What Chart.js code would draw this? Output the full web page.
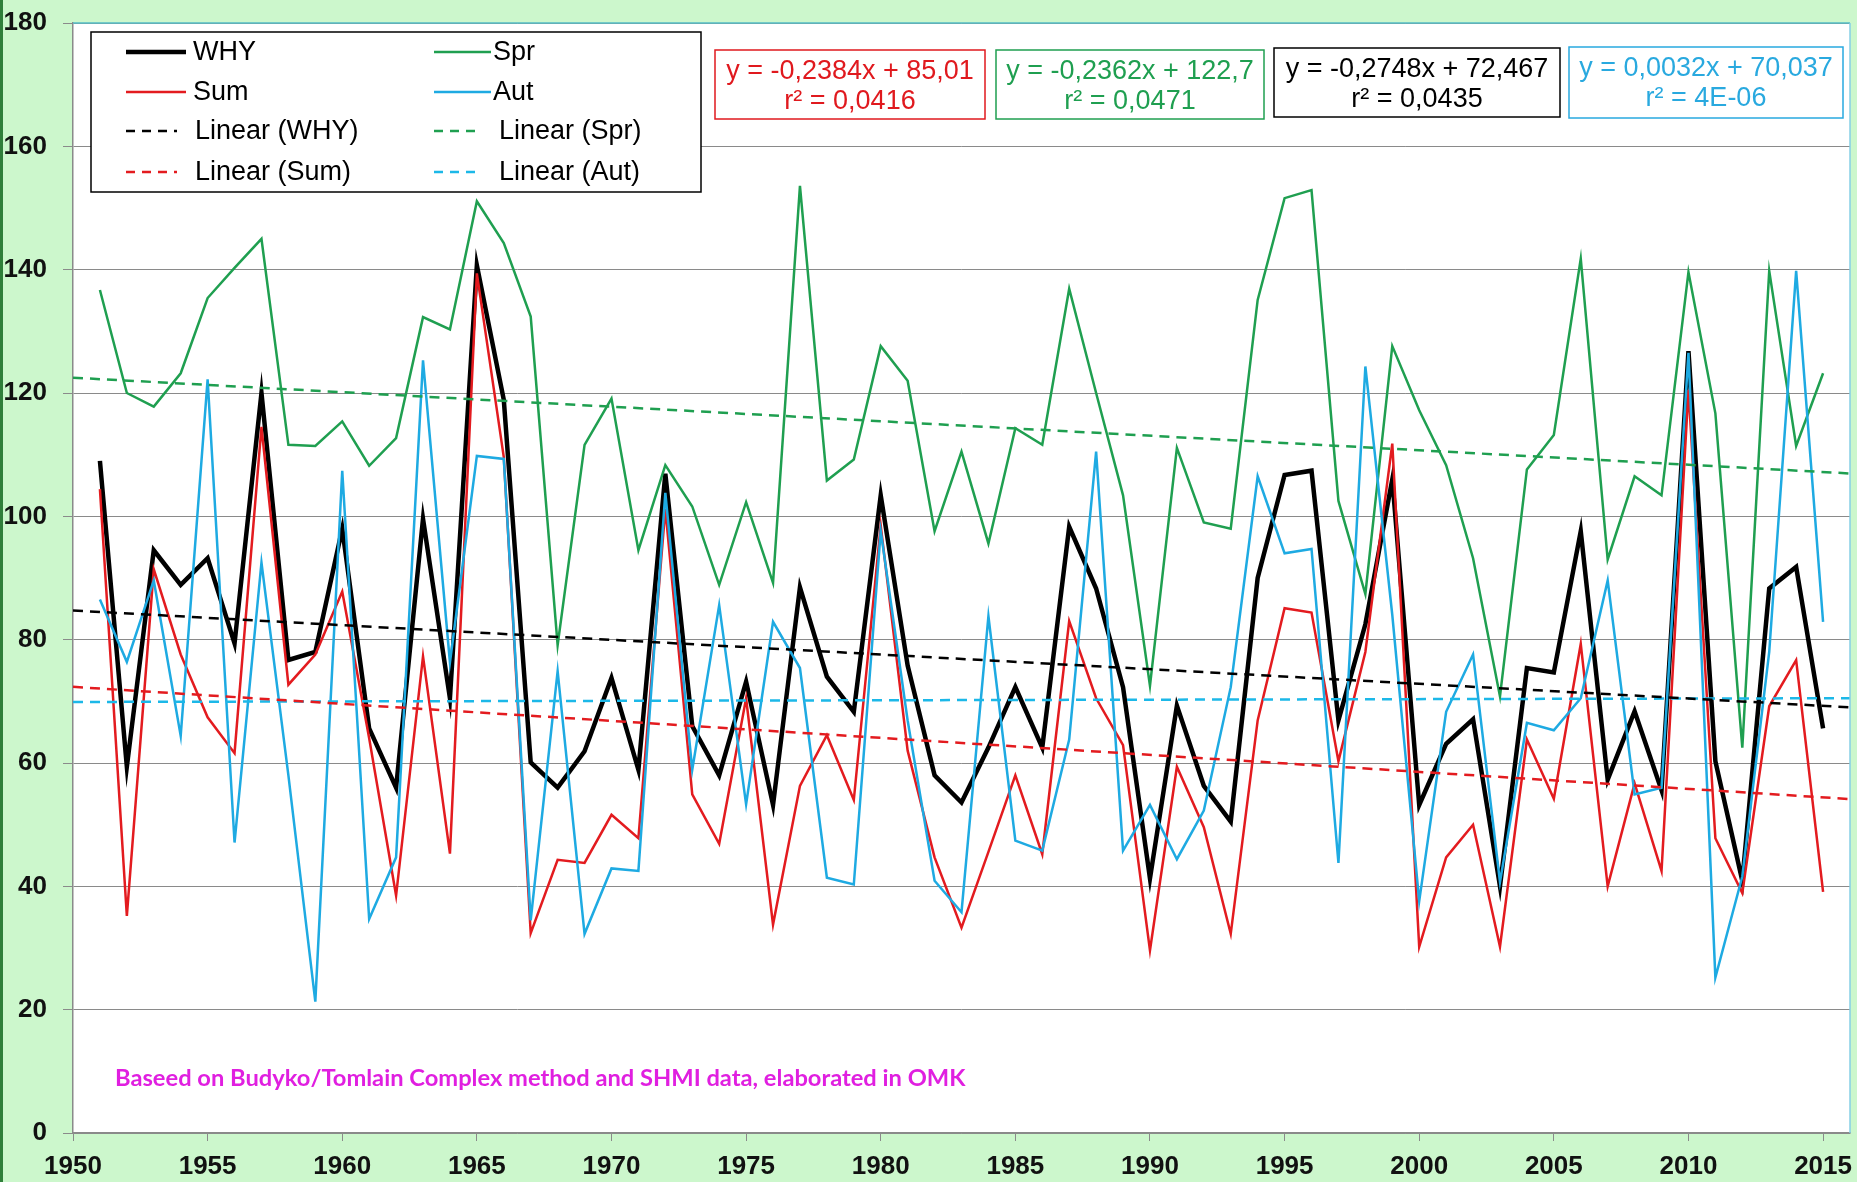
<!DOCTYPE html>
<html>
<head>
<meta charset="utf-8">
<script src="https://cdn.jsdelivr.net/npm/chart.js@4.4.1/dist/chart.umd.min.js"></script>
<style>
    html, body { margin: 0; padding: 0; background: #ccf7cc; }
    #wrap { width: 1857px; height: 1182px; position: relative; }
</style>
</head>
<body>
<div id="wrap"><canvas id="chart" width="1857" height="1182"></canvas></div>
<script>

let years = [];
for (let y = 1951; y <= 2015; y++) years.push(y);

let xTicks = [1950, 1955, 1960, 1965, 1970, 1975, 1980, 1985, 1990, 1995, 2000, 2005, 2010, 2015];
let yTicks = [0, 20, 40, 60, 80, 100, 120, 140, 160, 180];

let why = [109, 59.4, 94.5, 88.9, 93.2, 79.4, 120, 76.7, 78, 98,
    65.6, 56, 99.6, 70.5, 140.7, 118.9, 60.1, 56, 61.9, 73.8,
    58.9, 106.9, 66, 58, 73.2, 53.2, 88.5, 74, 68.3, 103.4,
    75.8, 58, 53.6, 62.5, 72.3, 62.5, 98.3, 88.3, 72.3, 41.3,
    69.3, 56.3, 50.5, 90, 106.7, 107.4, 66.9, 82.5, 106, 53.2,
    63.1, 67.1, 40, 75.4, 74.7, 97.6, 57.3, 68.4, 55.6, 126.8,
    60.3, 40.9, 88.3, 91.8, 65.6];

let sum = [104.4, 35.2, 91.4, 77.6, 67.4, 61.6, 114.5, 72.7, 77.6, 87.8,
    64, 38.5, 77.3, 45.3, 139.4, 109.6, 32.4, 44.3, 43.8, 51.6,
    47.8, 101.2, 54.9, 46.9, 70.5, 33.8, 56.3, 64.5, 54, 98.5,
    62, 44.7, 33.3, 45.6, 58, 45.2, 83, 70.5, 62.9, 29.6,
    59.4, 49.6, 32.3, 66.9, 85.1, 84.4, 60.3, 78, 111.8, 30.2,
    44.7, 50, 30.2, 63.8, 54.2, 79.3, 40, 56.7, 42.5, 120.5,
    47.8, 38.9, 69.2, 76.7, 39.1];

let spr = [136.7, 120, 117.8, 123.2, 135.4, 140.3, 145, 111.6, 111.4, 115.4,
    108.2, 112.7, 132.3, 130.3, 151.1, 144.3, 132.4, 79.1, 111.6, 119.1,
    94.5, 108.3, 101.6, 88.9, 102.3, 89.2, 153.6, 105.8, 109.2, 127.6,
    122, 97.6, 110.5, 95.6, 114.3, 111.6, 136.9, 120, 103.4, 72.5,
    111.1, 99, 98, 135.1, 151.6, 152.9, 102.5, 87.4, 127.6, 117.2,
    108.3, 93.2, 70.8, 107.6, 113.2, 141.8, 93, 106.5, 103.4, 139.6,
    116.7, 62.5, 139.8, 111.4, 123.2];

let aut = [86.5, 76.4, 89.6, 64.4, 122.2, 47.1, 92.5, 58, 21.3, 107.4,
    34.7, 44.7, 125.3, 76.3, 109.8, 109.3, 34.5, 74.9, 32.3, 42.9,
    42.5, 103.8, 58.9, 85.6, 53.3, 82.9, 75.4, 41.4, 40.3, 97.6,
    66.9, 40.9, 35.8, 83.8, 47.4, 45.8, 63.8, 110.5, 45.8, 53.2,
    44.4, 52.3, 72.3, 106.5, 94, 94.7, 43.8, 124.3, 84, 37.6,
    68.3, 77.6, 40.7, 66.5, 65.3, 70.5, 89.6, 54.9, 56, 126.5,
    25.2, 41.6, 78, 139.8, 82.9];

let equations = [
    ['y = -0,2384x + 85,01', 'r² = 0,0416'],
    ['y = -0,2362x + 122,7', 'r² = 0,0471'],
    ['y = -0,2748x + 72,467', 'r² = 0,0435'],
    ['y = 0,0032x + 70,037', 'r² = 4E-06']
];

let note = 'Baseed on Budyko/Tomlain Complex method and SHMI data, elaborated in OMK';

let colors = {
    why: '#000000',
    sum: '#e31b1f',
    spr: '#1f9f50',
    aut: '#1eaae2',
    autTrend: '#1cb8e8'
};

let toPoints = (values) => values.map((v, i) => ({ x: years[i], y: v }));

// least squares trend, drawn from 1950 to 2016 like the excel forecast
let trend = (values) => {
    let n = values.length;
    let mx = years.reduce((a, b) => a + b, 0) / n;
    let my = values.reduce((a, b) => a + b, 0) / n;
    let sxy = 0, sxx = 0;
    values.forEach((v, i) => {
        sxy += (years[i] - mx) * (v - my);
        sxx += (years[i] - mx) * (years[i] - mx);
    });
    let slope = sxy / sxx;
    let icpt = my - slope * mx;
    return [1950, 2016].map(x => ({ x: x, y: slope * x + icpt }));
};

let tickFont = { family: "'Liberation Sans', Arial, sans-serif", weight: 'bold', size: 26 };
let textFont = "27px 'Liberation Sans', Arial, sans-serif";

let dashedSet = (label, values, color, order) => ({
    label: label,
    data: trend(values),
    borderColor: color,
    borderWidth: 2.5,
    borderDash: [10, 7],
    pointRadius: 0,
    fill: false,
    order: order
});

let solidSet = (label, values, color, width, order) => ({
    label: label,
    data: toPoints(values),
    borderColor: color,
    borderWidth: width,
    pointRadius: 0,
    tension: 0,
    fill: false,
    order: order
});

let decorations = {
    id: 'decorations',
    beforeDraw: (chart) => {
        let ctx = chart.ctx;
        let area = chart.chartArea;
        ctx.save();
        ctx.fillStyle = '#ccf7cc';
        ctx.fillRect(0, 0, chart.width, chart.height);
        ctx.fillStyle = '#ffffff';
        ctx.fillRect(area.left, area.top, area.right - area.left, area.bottom - area.top);
        ctx.restore();
    },
    afterDraw: (chart) => {
        let ctx = chart.ctx;
        let area = chart.chartArea;
        ctx.save();

        // frame of the plot and the picture
        ctx.lineWidth = 1.5;
        ctx.strokeStyle = '#55bcc6';
        ctx.beginPath();
        ctx.moveTo(area.left, area.top);
        ctx.lineTo(area.right, area.top);
        ctx.stroke();
        ctx.strokeStyle = '#86cfe6';
        ctx.beginPath();
        ctx.moveTo(area.right, area.top);
        ctx.lineTo(area.right, area.bottom);
        ctx.stroke();
        ctx.fillStyle = '#2f7f3a';
        ctx.fillRect(0, 0, 3, chart.height);

        // legend
        ctx.fillStyle = '#ffffff';
        ctx.fillRect(91, 32, 610, 160);
        ctx.strokeStyle = '#000000';
        ctx.lineWidth = 1.5;
        ctx.strokeRect(91, 32, 610, 160);

        let rows = [
            [126, 186, 193, 52, 'WHY', colors.why, false, 4.5],
            [126, 186, 193, 92, 'Sum', colors.sum, false, 2.5],
            [126, 177, 195, 131, 'Linear (WHY)', colors.why, true, 2.5],
            [126, 177, 195, 172, 'Linear (Sum)', colors.sum, true, 2.5],
            [434, 491, 493, 52, 'Spr', colors.spr, false, 2.5],
            [434, 491, 493, 92, 'Aut', colors.aut, false, 2.5],
            [434, 482, 499, 131, 'Linear (Spr)', colors.spr, true, 2.5],
            [434, 482, 499, 172, 'Linear (Aut)', colors.autTrend, true, 2.5]
        ];
        ctx.font = textFont;
        ctx.textBaseline = 'middle';
        ctx.textAlign = 'left';
        rows.forEach(r => {
            ctx.strokeStyle = r[5];
            ctx.lineWidth = r[7];
            ctx.setLineDash(r[6] ? [9, 7] : []);
            ctx.beginPath();
            ctx.moveTo(r[0], r[3]);
            ctx.lineTo(r[1], r[3]);
            ctx.stroke();
            ctx.setLineDash([]);
            ctx.fillStyle = '#000000';
            ctx.fillText(r[4], r[2], r[3] + 1);
        });

        // equation boxes
        let boxes = [
            [715, 50, 270, 69, '#e0191e'],
            [996, 50, 268, 69, '#1f9f50'],
            [1274, 48, 286, 69, '#000000'],
            [1569, 47, 274, 71, '#29a9df']
        ];
        ctx.textAlign = 'center';
        boxes.forEach((b, i) => {
            ctx.fillStyle = '#ffffff';
            ctx.fillRect(b[0], b[1], b[2], b[3]);
            ctx.strokeStyle = b[4];
            ctx.lineWidth = 1.5;
            ctx.strokeRect(b[0], b[1], b[2], b[3]);
            ctx.fillStyle = b[4];
            ctx.fillText(equations[i][0], b[0] + b[2] / 2, b[1] + 22);
            ctx.fillText(equations[i][1], b[0] + b[2] / 2, b[1] + 52);
        });

        // source note
        let size = 22;
        ctx.font = 'bold ' + size + "px Lato, 'Open Sans', sans-serif";
        let w = ctx.measureText(note).width;
        size = size * 850 / w;
        ctx.font = 'bold ' + size.toFixed(1) + "px Lato, 'Open Sans', sans-serif";
        ctx.fillStyle = '#e01fe0';
        ctx.textAlign = 'left';
        ctx.fillText(note, 115, 1078);

        ctx.restore();
    }
};

let chart = document.getElementById('chart');

let myChart = new Chart(chart, {
    type: 'line',
    data: {
        datasets: [
            dashedSet('Linear (WHY)', why, colors.why, 0),
            dashedSet('Linear (Sum)', sum, colors.sum, 0),
            dashedSet('Linear (Spr)', spr, colors.spr, 0),
            dashedSet('Linear (Aut)', aut, colors.autTrend, 0),
            solidSet('Aut', aut, colors.aut, 2.5, 1),
            solidSet('Spr', spr, colors.spr, 2.5, 2),
            solidSet('Sum', sum, colors.sum, 2.5, 3),
            solidSet('WHY', why, colors.why, 4.5, 4)
        ]
    },
    options: {
        responsive: false,
        animation: false,
        devicePixelRatio: 1,
        layout: {
            padding: { top: 23, right: 7, bottom: 0, left: 0 }
        },
        scales: {
            x: {
                type: 'linear',
                min: 1950,
                max: 2016,
                afterBuildTicks: (scale) => {
                    scale.ticks = xTicks.map(v => ({ value: v }));
                },
                afterFit: (scale) => {
                    scale.height = 49;
                    scale.paddingLeft = 0;
                    scale.paddingRight = 0;
                },
                grid: {
                    drawOnChartArea: false,
                    drawTicks: true,
                    tickLength: 8,
                    color: '#8a8a8a'
                },
                border: { display: true, color: '#8a8a8a', width: 1.5 },
                ticks: {
                    autoSkip: false,
                    maxRotation: 0,
                    padding: 10,
                    color: '#111111',
                    font: tickFont,
                    callback: (v) => String(v)
                }
            },
            y: {
                min: 0,
                max: 180,
                afterBuildTicks: (scale) => {
                    scale.ticks = yTicks.map(v => ({ value: v }));
                },
                afterFit: (scale) => {
                    scale.width = 73;
                    scale.paddingTop = 0;
                    scale.paddingBottom = 0;
                },
                grid: {
                    color: '#8a8a8a',
                    lineWidth: 1,
                    tickLength: 10
                },
                border: { display: true, color: '#8a8a8a', width: 1.5 },
                ticks: {
                    padding: 16,
                    color: '#111111',
                    font: tickFont
                }
            }
        },
        plugins: {
            legend: { display: false },
            tooltip: { enabled: false }
        }
    },
    plugins: [decorations]
});
</script>
</body>
</html>
